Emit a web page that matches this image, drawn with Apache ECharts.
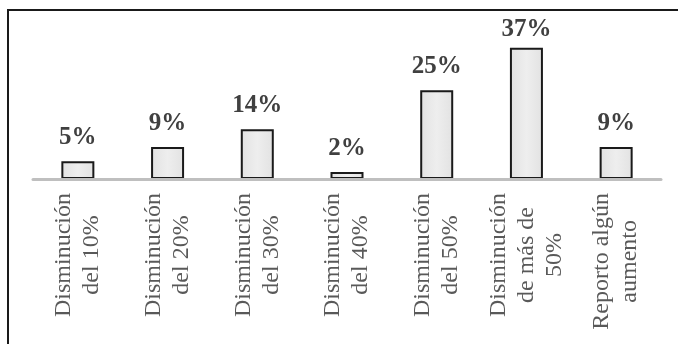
<!DOCTYPE html>
<html>
<head>
<meta charset="utf-8">
<script src="https://cdn.jsdelivr.net/npm/echarts@6/dist/echarts.min.js"></script>
<style>
  html, body { margin: 0; padding: 0; background: #fff; }
  #chart { width: 678px; height: 344px; }
</style>
</head>
<body>
<div id="chart"></div>
<script>
// Categories (one line per array entry) and the share of respondents for each
const categories = [
  ['Disminución', 'del 10%'],
  ['Disminución', 'del 20%'],
  ['Disminución', 'del 30%'],
  ['Disminución', 'del 40%'],
  ['Disminución', 'del 50%'],
  ['Disminución', 'de más de', '50%'],
  ['Reporto algún', 'aumento']
];
const percentages = [5, 9, 14, 2, 25, 37, 9];

const chart = echarts.init(document.getElementById('chart'), null, { renderer: 'canvas' });

// Labels that would rise above this line are nudged down to stay in the frame
const LABEL_TOP_LIMIT = 17;
const SERIF = 'Liberation Serif';

chart.setOption({
  animation: false,
  backgroundColor: '#ffffff',
  grid: { left: 33, right: 17, top: 37, bottom: 165 },
  graphic: [{
    type: 'rect',
    shape: { x: 8, y: 10, width: 720, height: 400 },
    style: { fill: 'none', stroke: '#1a1a1a', lineWidth: 2 },
    silent: true,
    z: 10
  }],
  xAxis: {
    type: 'category',
    data: categories.map(lines => lines.join('\n')),
    z: 5,
    axisLine: { show: true, lineStyle: { color: '#bfbfbf', width: 3 } },
    axisTick: { show: false },
    axisLabel: {
      interval: 0,
      rotate: 90,
      margin: 14,
      color: '#595959',
      fontFamily: SERIF,
      fontSize: 24,
      lineHeight: 28,
      formatter: value => value.split('\n').map(l => '{c|' + l + '}').join('\n'),
      rich: {
        c: {
          align: 'center',
          color: '#595959',
          fontFamily: SERIF,
          fontSize: 24,
          lineHeight: 28
        }
      }
    }
  },
  yAxis: {
    type: 'value',
    min: 0,
    max: 40,
    show: false,
    splitLine: { show: false }
  },
  series: [{
    type: 'bar',
    data: percentages,
    barWidth: 33,
    itemStyle: {
      color: {
        type: 'linear', x: 0, y: 0, x2: 1, y2: 0,
        colorStops: [
          { offset: 0, color: '#e2e2e2' },
          { offset: 0.5, color: '#eeeeee' },
          { offset: 1, color: '#e2e2e2' }
        ]
      },
      borderColor: '#1a1a1a',
      borderWidth: 2
    },
    label: {
      show: true,
      position: 'top',
      distance: 11,
      formatter: p => p.value + '%',
      color: '#404040',
      fontFamily: SERIF,
      fontWeight: 'bold',
      fontSize: 25
    },
    labelLayout: p => {
      const over = LABEL_TOP_LIMIT - p.labelRect.y;
      return over > 0 ? { dy: over } : {};
    }
  }]
});
</script>
</body>
</html>
